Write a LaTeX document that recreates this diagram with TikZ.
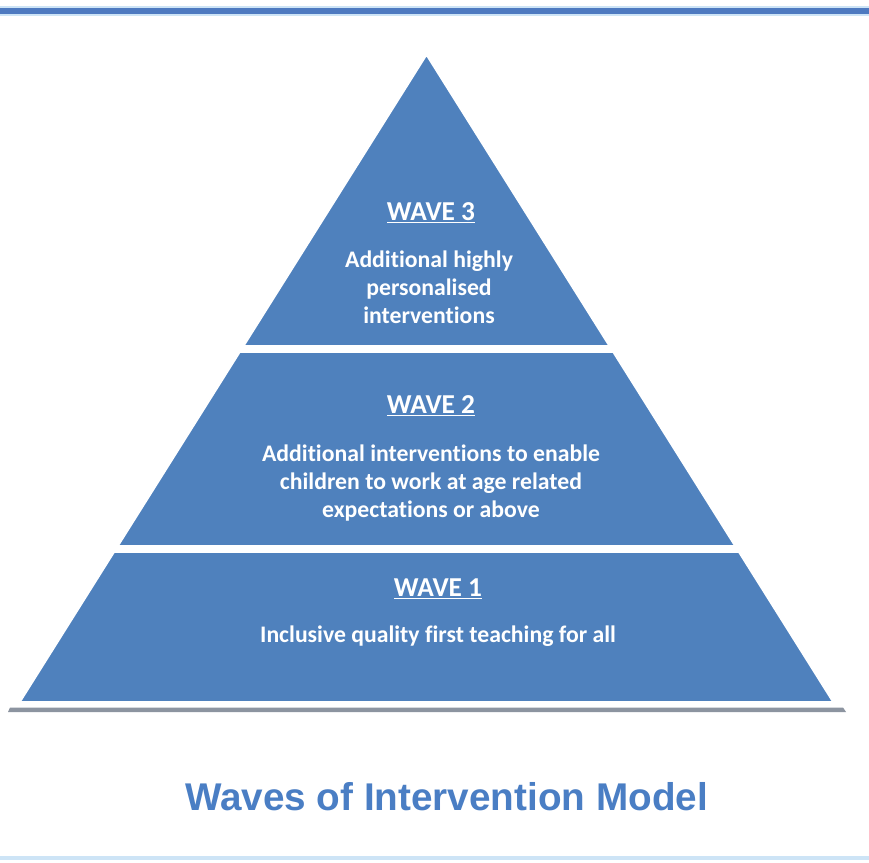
\documentclass[tikz,border=0pt]{standalone}
\usepackage{fontspec}
\setmainfont[Ligatures={NoCommon}]{Carlito}
\newfontfamily\titlefont{Liberation Sans}
\definecolor{pyrblue}{RGB}{79,129,189}
\definecolor{barblue}{RGB}{78,122,192}
\definecolor{titleblue}{RGB}{74,126,196}
\definecolor{lightline}{RGB}{205,228,246}
\definecolor{shadowgray}{RGB}{140,148,160}
\tikzset{
  layer/.style={fill=pyrblue, draw=white, line width=1.2pt, line join=miter},
  head/.style={text=white, font=\bfseries\fontsize{20.5}{24}\selectfont, align=center},
  body/.style={text=white, font=\bfseries\fontsize{17.8}{21}\selectfont, align=center},
}
\begin{document}
\begin{tikzpicture}[x=0.75pt,y=-0.75pt]
\useasboundingbox (0,0) rectangle (869,863);
\fill[white] (0,0) rectangle (869,863);
% top bar
\fill[lightline] (0,6) rectangle (869,16);
\fill[barblue] (0,8) rectangle (869,14);
% bottom line
\fill[lightline] (0,856) rectangle (869,860);
% shadow under base
\fill[shadowgray] (10,707.5) -- (843,707.5) -- (846,712) -- (8,712) -- cycle;
% layers
\path[layer] (426.5,55) -- (609.3,346) -- (243.7,346) -- cycle;
\path[layer] (239.9,352) -- (613.1,352) -- (735,546) -- (118,546) -- cycle;
\path[layer] (114.2,552) -- (738.8,552) -- (833,702) -- (20,702) -- cycle;
% texts
\node[head] (w3) at (431,213) {\underline{WAVE 3}};
\node[body, anchor=north] (t3) at (429,246) {Additional highly\\personalised\\interventions};
\node[head] (w2) at (431,406) {\underline{WAVE 2}};
\node[body, anchor=north] (t2) at (431,440) {Additional interventions to enable\\children to work at age related\\expectations or above};
\node[head] (w1) at (438,589) {\underline{WAVE 1}};
\node[body] (t1) at (438,636) {Inclusive quality first teaching for all};
\node[text=titleblue, font=\titlefont\bfseries\fontsize{29}{34}\selectfont] (title) at (446.5,797) {Waves of Intervention Model};
\end{tikzpicture}
\end{document}
